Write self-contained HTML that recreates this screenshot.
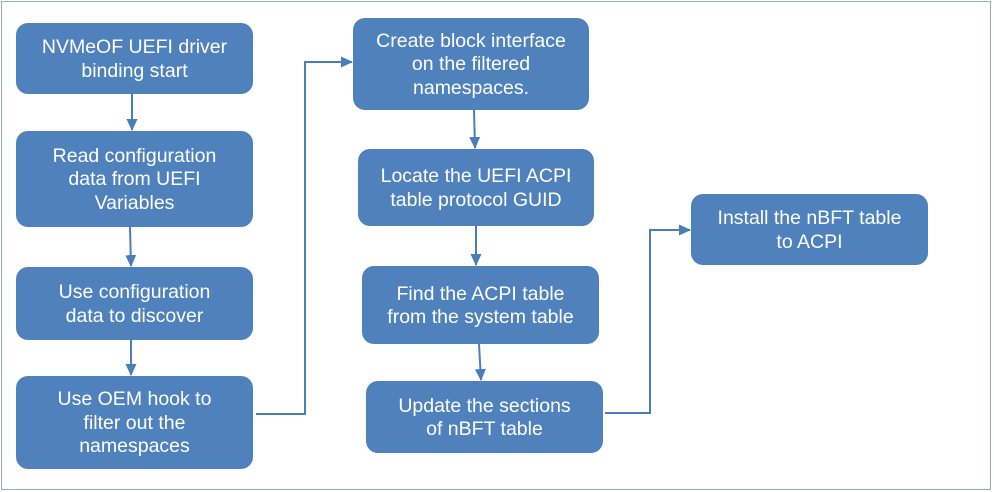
<!DOCTYPE html>
<html><head><style>
body{margin:0;width:994px;height:492px;background:#fff;position:relative;overflow:hidden;font-family:"Liberation Sans",Arial,sans-serif}
.f{position:absolute;left:1px;top:1px;width:988px;height:487px;border:1.5px solid #9aa9bf}
.b{position:absolute;background:#4f81bd;border-radius:12px;color:#fff;font-size:19.5px;line-height:23.5px;display:flex;align-items:center;justify-content:center;text-align:center;white-space:nowrap;padding-top:2px;box-sizing:border-box}
svg{position:absolute;left:0;top:0}
</style></head><body>
<div class="f"></div>
<svg width="994" height="492">
<defs><marker id="a" markerWidth="12" markerHeight="12" refX="11" refY="5.5" orient="auto" markerUnits="userSpaceOnUse"><path d="M0,0L12,5.5L0,11z" fill="#4a7ebb"/></marker></defs>
<g stroke="#4a7ebb" stroke-width="2" fill="none">
<line x1="132" y1="94" x2="132" y2="130" marker-end="url(#a)"/>
<line x1="130" y1="227" x2="131" y2="266" marker-end="url(#a)"/>
<line x1="131" y1="340" x2="131" y2="375" marker-end="url(#a)"/>
<polyline points="256,414 305,414 305,62 352,62" marker-end="url(#a)"/>
<line x1="474" y1="110" x2="475" y2="148" marker-end="url(#a)"/>
<line x1="476" y1="226" x2="476" y2="265" marker-end="url(#a)"/>
<line x1="479" y1="344" x2="481" y2="380" marker-end="url(#a)"/>
<polyline points="605,413 650,413 650,230 690,230" marker-end="url(#a)"/>
</g></svg>
<div class="b" style="left:16px;top:23px;width:237px;height:71px">NVMeOF UEFI driver<br>binding start</div>
<div class="b" style="left:16px;top:131px;width:237px;height:96px">Read configuration<br>data from UEFI<br>Variables</div>
<div class="b" style="left:16px;top:267px;width:237px;height:73px">Use configuration<br>data to discover</div>
<div class="b" style="left:16px;top:376px;width:237px;height:93px">Use OEM hook to<br>filter out the<br>namespaces</div>
<div class="b" style="left:353px;top:18px;width:236px;height:92px">Create block interface<br>on the filtered<br>namespaces.</div>
<div class="b" style="left:358px;top:149px;width:236px;height:77px">Locate the UEFI ACPI<br>table protocol GUID</div>
<div class="b" style="left:362px;top:266px;width:237px;height:78px">Find the ACPI table<br>from the system table</div>
<div class="b" style="left:366px;top:381px;width:237px;height:72px">Update the sections<br>of nBFT table</div>
<div class="b" style="left:691px;top:194px;width:237px;height:71px;align-items:flex-start;padding-top:13px">Install the nBFT table<br>to ACPI</div>
</body></html>
